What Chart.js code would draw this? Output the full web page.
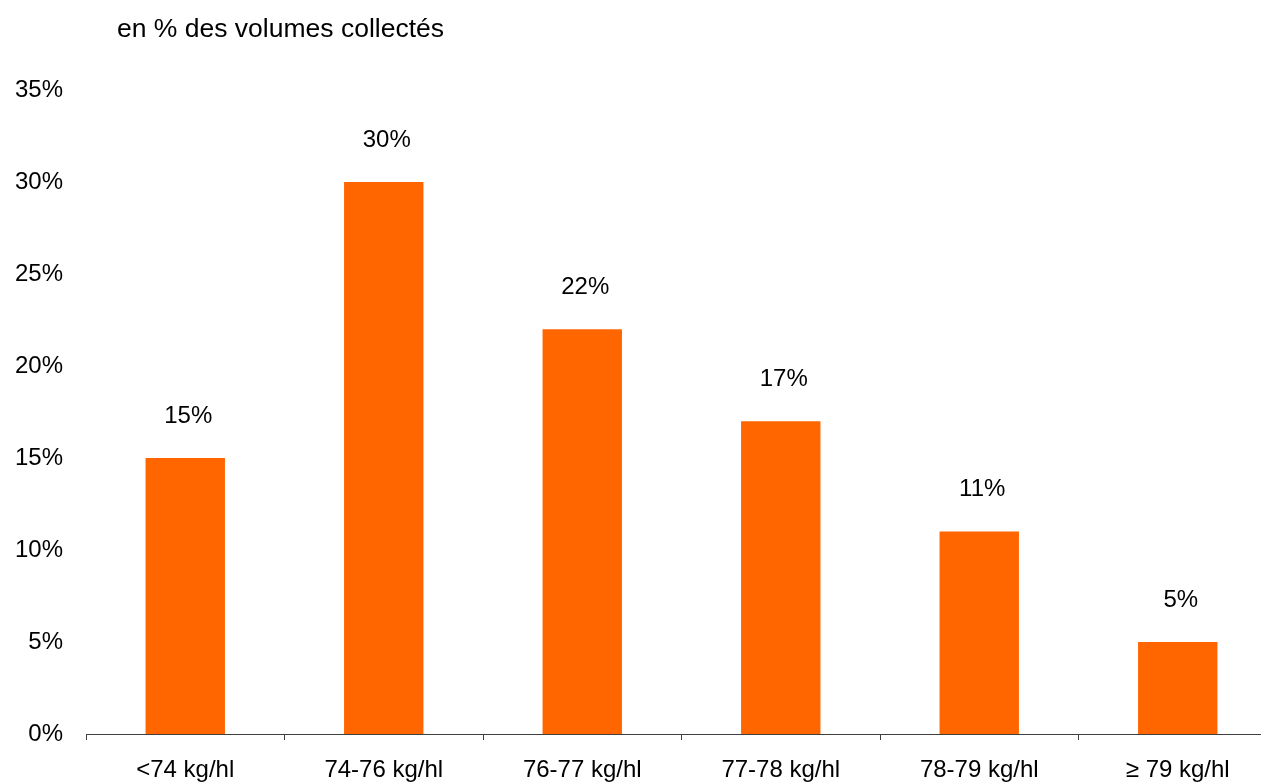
<!DOCTYPE html>
<html>
<head>
<meta charset="utf-8">
<script src="https://cdn.jsdelivr.net/npm/chart.js@4/dist/chart.umd.min.js"></script>
<style>
  html, body { margin: 0; padding: 0; background: #fff; overflow: hidden; }
  canvas { display: block; }
</style>
</head>
<body>
<canvas id="chart" width="1290" height="783"></canvas>
<script>
// classes de poids spécifique et part des volumes
var categories = ["<74 kg/hl", "74-76 kg/hl", "76-77 kg/hl", "77-78 kg/hl", "78-79 kg/hl", "\u2265 79 kg/hl"];
var values = [15, 30, 22, 17, 11, 5];
var yMax = 35;
var yStep = 5;
var titre = "en % des volumes collectés";

var police = '"Liberation Sans", Arial, sans-serif';
var orange = "#FF6600";

// titre en haut à gauche + étiquettes au dessus des barres
var labelsPlugin = {
  id: "etiquettes",
  afterDraw: function(chart) {
    var ctx = chart.ctx;
    ctx.save();
    ctx.fillStyle = "#000";
    ctx.font = "26.5px " + police;
    ctx.textBaseline = "alphabetic";
    ctx.textAlign = "left";
    ctx.fillText(titre, 117, 36.5);

    ctx.font = "24px " + police;
    ctx.textBaseline = "middle";
    ctx.textAlign = "center";
    var meta = chart.getDatasetMeta(0);
    meta.data.forEach(function(bar, i) {
      ctx.fillText(values[i] + "%", bar.x + 3, bar.y - 42);
    });
    ctx.restore();
  }
};

var ctx = document.getElementById("chart").getContext("2d");
var chart = new Chart(ctx, {
  type: "bar",
  data: {
    labels: categories,
    datasets: [{
      data: values,
      backgroundColor: orange,
      borderWidth: 0,
      barPercentage: 0.4,
      categoryPercentage: 1
    }]
  },
  options: {
    responsive: false,
    animation: false,
    devicePixelRatio: 1,
    layout: { padding: { top: 90, right: 13, left: 0, bottom: 0 } },
    plugins: {
      legend: { display: false },
      tooltip: { enabled: false }
    },
    scales: {
      x: {
        offset: true,
        grid: {
          display: true,
          drawOnChartArea: false,
          drawTicks: true,
          tickLength: 6,
          color: "#404040",
          lineWidth: 1
        },
        border: { display: true, color: "#404040", width: 1 },
        ticks: {
          color: "#000",
          font: { family: police, size: 24 },
          padding: 16,
          maxRotation: 0,
          autoSkip: false
        },
        afterFit: function(scale) { scale.height = 49; }
      },
      y: {
        min: 0,
        max: yMax,
        grid: { display: false, drawTicks: false },
        border: { display: false },
        ticks: {
          stepSize: yStep,
          color: "#000",
          font: { family: police, size: 24 },
          padding: 23,
          callback: function(v) { return v + "%"; }
        },
        afterFit: function(scale) { scale.width = 86; }
      }
    }
  },
  plugins: [labelsPlugin]
});
</script>
</body>
</html>
